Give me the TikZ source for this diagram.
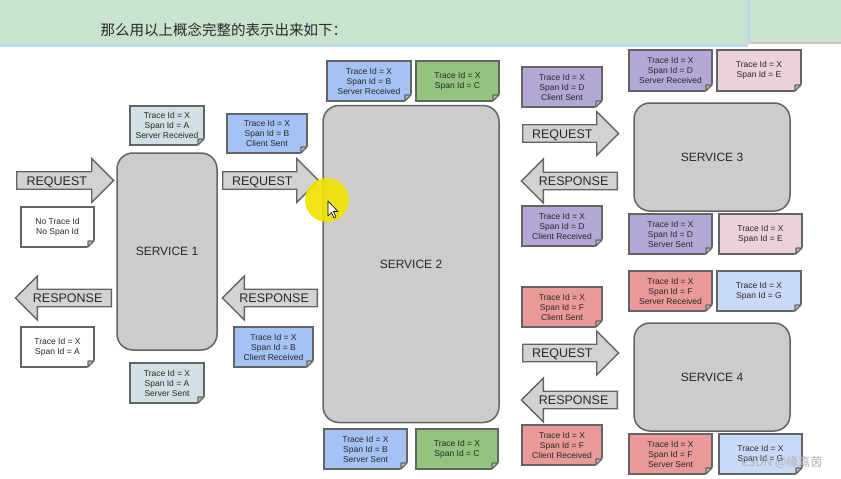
\documentclass[tikz,border=0pt]{standalone}
\usepackage{fontspec}
\setmainfont{Liberation Sans}
\newfontfamily\cjk{Noto Sans CJK SC}
\usetikzlibrary{shapes.arrows,positioning}

\definecolor{hdr}{RGB}{201,227,207}
\definecolor{hdrline}{RGB}{190,214,238}
\definecolor{bd}{RGB}{100,100,100}
\definecolor{txt}{RGB}{40,40,40}
\definecolor{svcfill}{RGB}{204,204,204}
\definecolor{arrfill}{RGB}{210,210,210}
\definecolor{cA}{RGB}{208,224,227}
\definecolor{cB}{RGB}{164,194,244}
\definecolor{cC}{RGB}{147,196,125}
\definecolor{cD}{RGB}{180,167,214}
\definecolor{cE}{RGB}{234,209,220}
\definecolor{cF}{RGB}{234,153,153}
\definecolor{cG}{RGB}{201,218,248}
\definecolor{glow}{RGB}{240,226,0}

% dog-ear at the lower right corner of a note
\newcommand{\fold}[1]{%
  \fill[white] ([shift={(-6.8pt,-1pt)}]#1.south east) -- ([shift={(1pt,-1pt)}]#1.south east)
    -- ([shift={(1pt,6.8pt)}]#1.south east) -- cycle;
  \draw[bd, line width=1.2pt, fill=gray!55, line join=round] ([xshift=-6pt]#1.south east)
    -- ([yshift=6pt]#1.south east) -- ([shift={(-6pt,6pt)}]#1.south east) -- cycle;
}

\begin{document}
\begin{tikzpicture}
  [x=1pt, y=-1pt,
   note/.style={rectangle, draw=bd, line width=1.2pt, minimum width=80pt, minimum height=40pt,
     inner sep=0pt, outer sep=0pt, align=center, text=txt, font=\fontsize{8.5}{10}\selectfont},
   svc/.style={rectangle, rounded corners=16pt, draw=bd, fill=svcfill, line width=1.5pt,
     text=txt, font=\fontsize{12}{14}\selectfont},
   blk/.style={single arrow, draw=bd, fill=arrfill, line width=1.3pt, minimum width=44pt,
     single arrow head extend=11pt, single arrow head indent=0pt, inner sep=2pt,
     text height=9pt, text depth=0pt,
     anchor=tail, text=txt, font=\fontsize{12.5}{14}\selectfont},
   back/.style={blk, shape border rotate=180}]
  \useasboundingbox (0,0) rectangle (841,479);

  % header
  \fill[hdr] (0,0) rectangle (841,44);
  \fill[hdrline] (0,44) rectangle (748,46.5);
  \fill[hdrline] (747,0) rectangle (750,44);
  \fill[gray!45] (750,41.5) rectangle (841,44);
  \node[anchor=west, text=txt, font=\cjk\fontsize{14.5}{16}\selectfont] (title) at (97,30)
    {那么用以上概念完整的表示出来如下：};

  % services
  \node[svc, minimum width=100pt, minimum height=197pt] (s1) at (167,251.5) {SERVICE 1};
  \node[svc, minimum width=176pt, minimum height=317pt] (s2) at (411,264) {SERVICE 2};
  \node[svc, minimum width=156pt, minimum height=108pt] (s3) at (712,157) {SERVICE 3};
  \node[svc, minimum width=156pt, minimum height=108pt] (s4) at (712,377) {SERVICE 4};

  % requests and responses
  \node[blk, minimum height=97pt] (req1) at (16,180.5) {\hspace*{-8pt}REQUEST};
  \node[blk, minimum height=96pt] (req2) at (222,180.5) {\hspace*{-8pt}REQUEST};
  \node[back, minimum height=96pt] (resp1) at (112,298) {RESPONSE};
  \node[back, minimum height=95pt] (resp2) at (318,298) {RESPONSE};
  \node[blk, minimum height=96pt] (req3) at (522,133.5) {\hspace*{-8pt}REQUEST};
  \node[back, minimum height=96pt] (resp3) at (618,181) {RESPONSE};
  \node[blk, minimum height=96pt] (req4) at (522,353) {\hspace*{-8pt}REQUEST};
  \node[back, minimum height=96pt] (resp4) at (618,400) {RESPONSE};

  % span notes round service 1
  \node[note, fill=white, minimum width=73pt, anchor=north west] (noid) at (21,207) {No Trace Id\\No Span Id};
  \node[note, fill=white, minimum width=73pt, anchor=north west] (aret) at (21,327) {Trace Id = X\\Span Id = A};
  \node[note, fill=cA, minimum width=74pt, minimum height=39pt, anchor=north west] (asr) at (130,106) {Trace Id = X\\Span Id = A\\Server Received};
  \node[note, fill=cA, minimum width=74pt, anchor=north west] (ass) at (130,363) {Trace Id = X\\Span Id = A\\Server Sent};
  \node[note, fill=cB, minimum height=39pt, anchor=north west] (bcs) at (227,114) {Trace Id = X\\Span Id = B\\Client Sent};
  \node[note, fill=cB, minimum width=79pt, anchor=north west] (bcr) at (234,327) {Trace Id = X\\Span Id = B\\Client Received};

  % span notes round service 2
  \node[note, fill=cB, minimum width=84pt, anchor=north west] (bsr) at (327,61) {Trace Id = X\\Span Id = B\\Server Received};
  \node[note, fill=cC, minimum width=83pt, right=5pt of bsr] (ctop) {Trace Id = X\\Span Id = C};
  \node[note, fill=cB, minimum width=83pt, anchor=north west] (bss) at (324,429) {Trace Id = X\\Span Id = B\\Server Sent};
  \node[note, fill=cC, minimum width=82pt, right=9pt of bss] (cbot) {Trace Id = X\\Span Id = C};

  % span notes round service 3
  \node[note, fill=cD, anchor=north west] (dcs) at (522,67) {Trace Id = X\\Span Id = D\\Client Sent};
  \node[note, fill=cD, anchor=north west] (dcr) at (522,206) {Trace Id = X\\Span Id = D\\Client Received};
  \node[note, fill=cD, minimum width=83pt, minimum height=41pt, anchor=north west] (dsr) at (629,50) {Trace Id = X\\Span Id = D\\Server Received};
  \node[note, fill=cE, minimum width=84pt, minimum height=41pt, right=5pt of dsr] (etop) {Trace Id = X\\Span Id = E};
  \node[note, fill=cD, minimum width=83pt, anchor=north west] (dss) at (629,214) {Trace Id = X\\Span Id = D\\Server Sent};
  \node[note, fill=cE, minimum width=83pt, right=7pt of dss] (ebot) {Trace Id = X\\Span Id = E};

  % span notes round service 4
  \node[note, fill=cF, anchor=north west] (fcs) at (522,287) {Trace Id = X\\Span Id = F\\Client Sent};
  \node[note, fill=cF, anchor=north west] (fcr) at (522,425) {Trace Id = X\\Span Id = F\\Client Received};
  \node[note, fill=cF, minimum width=83pt, anchor=north west] (fsr) at (629,271) {Trace Id = X\\Span Id = F\\Server Received};
  \node[note, fill=cG, minimum width=84pt, right=5pt of fsr] (gtop) {Trace Id = X\\Span Id = G};
  \node[note, fill=cF, minimum width=83pt, anchor=north west] (fss) at (629,434) {Trace Id = X\\Span Id = F\\Server Sent};
  \node[note, fill=cG, minimum width=83pt, right=7pt of fss] (gbot) {Trace Id = X\\Span Id = G};

  \foreach \n in {noid,aret,asr,ass,bcs,bcr,bsr,ctop,bss,cbot,dcs,dcr,dsr,etop,dss,ebot,
                  fcs,fcr,fsr,gtop,fss,gbot}
    \fold{\n};

  % pointer highlight and watermark
  \fill[glow, opacity=0.9] (327,200) circle (22pt);
  \draw[black, fill=white, line width=0.6pt, line join=round] (328,201) -- (328,216) -- (331.5,212.5)
    -- (334,218) -- (336,217) -- (333.5,211.5) -- (338,211.5) -- cycle;
  \node[anchor=east, text=gray!60, font=\cjk\fontsize{12}{14}\selectfont] (mark) at (826,462) {CSDN @缘嘉茵};
\end{tikzpicture}
\end{document}
